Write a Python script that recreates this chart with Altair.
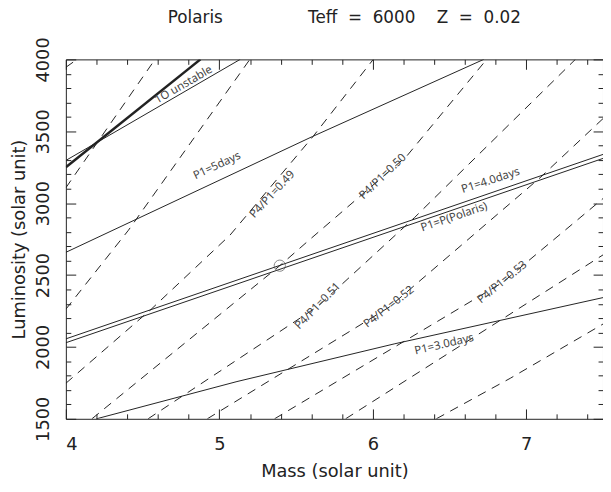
import altair as alt
import pandas as pd

# ---------------- data ----------------
# axis ticks
x_major = [4, 5, 6, 7]
x_minor = [4.2, 4.4, 4.6, 4.8, 5.2, 5.4, 5.6, 5.8, 6.2, 6.4, 6.6, 6.8, 7.2, 7.4]
y_major = [1500, 2000, 2500, 3000, 3500, 4000]
y_minor = [1600, 1700, 1800, 1900, 2100, 2200, 2300, 2400, 2600, 2700, 2800, 2900,
           3100, 3200, 3300, 3400, 3600, 3700, 3800, 3900]

# thick boundary line
thick_mass = [4.0, 4.877]
thick_lum = [3250, 4000]

# solid lines (constant period / stability)
unstable_mass = [4.0, 5.136]
unstable_lum = [3297, 4000]
p5_mass = [4.0, 5.608, 6.723]
p5_lum = [2658, 3464, 4000]
p4_mass = [4.0, 7.5]
p4_lum = [2056, 3339]
ppol_mass = [4.0, 7.5]
ppol_lum = [2029, 3311]
p3_mass = [4.2, 5.115, 6.144, 7.5]
p3_lum = [1500, 1759, 2022, 2343]

# dashed lines of constant P4/P1
d46_mass = [4.0, 4.073]
d46_lum = [3945, 4000]
d47_mass = [4.0, 4.581]
d47_lum = [3107, 4000]
d48_mass = [4.0, 4.408, 5.199]
d48_lum = [2262, 2812, 4000]
d49_mass = [4.0, 4.556, 5.070, 5.611, 6.003]
d49_lum = [1747, 2262, 2778, 3464, 4000]
d50_mass = [4.170, 5.394, 5.585, 6.221, 6.742]
d50_lum = [1500, 2565, 2743, 3327, 4000]
d51_mass = [4.536, 5.643, 6.273, 7.320]
d51_lum = [1500, 2283, 2901, 4000]
d52_mass = [4.922, 6.106, 7.089, 7.5]
d52_lum = [1500, 2276, 3176, 3588]
d53_mass = [5.360, 6.845, 7.5]
d53_lum = [1500, 2448, 3032]
d54_mass = [5.823, 7.5]
d54_lum = [1500, 2640]
d55_mass = [6.414, 6.896, 7.5]
d55_lum = [1500, 1782, 2159]

# Polaris position
polaris_mass = [5.394]
polaris_lum = [2565]

# in-plot labels
label_text = ["1O unstable", "P1=5days", "P4/P1=0.49", "P4/P1=0.50", "P4/P1=0.51",
              "P4/P1=0.52", "P4/P1=0.53", "P1=4.0days", "P1=P(Polaris)", "P1=3.0days"]
label_mass = [4.768, 4.986, 5.347, 6.067, 5.643, 6.106, 6.845, 6.768, 6.530, 6.466]
label_lum = [3821, 3258, 3059, 3183, 2283, 2276, 2448, 3155, 2901, 2015]
label_angle = [-30, -25, -47, -44, -46, -38, -39, -18, -19, -13]

# ---------------- tables ----------------
def table(specs):
    rows = []
    for name, ms, ls in specs:
        for m, l in zip(ms, ls):
            rows.append({"line": name, "mass": m, "lum": l})
    return pd.DataFrame(rows)

thick_df = table([("thick", thick_mass, thick_lum)])
solid_df = table([
    ("1O unstable", unstable_mass, unstable_lum),
    ("P1=5days", p5_mass, p5_lum),
    ("P1=4.0days", p4_mass, p4_lum),
    ("P1=P(Polaris)", ppol_mass, ppol_lum),
    ("P1=3.0days", p3_mass, p3_lum),
])
dashed_df = table([
    ("0.46", d46_mass, d46_lum), ("0.47", d47_mass, d47_lum),
    ("0.48", d48_mass, d48_lum), ("0.49", d49_mass, d49_lum),
    ("0.50", d50_mass, d50_lum), ("0.51", d51_mass, d51_lum),
    ("0.52", d52_mass, d52_lum), ("0.53", d53_mass, d53_lum),
    ("0.54", d54_mass, d54_lum), ("0.55", d55_mass, d55_lum),
])
pol_df = pd.DataFrame({"mass": polaris_mass, "lum": polaris_lum})
lab_df = pd.DataFrame({"text": label_text, "mass": label_mass, "lum": label_lum,
                       "angle": [(a + 360) % 360 for a in label_angle]})
carrier = pd.DataFrame({"mass": [4.0], "lum": [1500]})

# ---------------- chart ----------------
W, H = 544, 364
INK = "#222222"
xsc = alt.Scale(domain=[4, 7.5], nice=False, zero=False)
ysc = alt.Scale(domain=[1500, 4000], nice=False, zero=False)


def X(axis):
    return alt.X("mass:Q", scale=xsc, axis=axis)


def Y(axis):
    return alt.Y("lum:Q", scale=ysc, axis=axis)


dashed = alt.Chart(dashed_df).mark_line(
    color=INK, strokeWidth=1, strokeDash=[9, 7], clip=True
).encode(x=X(None), y=Y(None), detail="line:N")

solid = alt.Chart(solid_df).mark_line(
    color=INK, strokeWidth=1, clip=True
).encode(x=X(None), y=Y(None), detail="line:N")

thick = alt.Chart(thick_df).mark_line(
    color=INK, strokeWidth=2.5, clip=True
).encode(x=X(None), y=Y(None), detail="line:N")

circle = alt.Chart(pol_df).mark_point(
    shape="circle", size=130, filled=False, color="#555555", strokeWidth=1
).encode(x=X(None), y=Y(None))

labels = alt.Chart(lab_df).mark_text(
    font="Noto Sans", fontSize=11.5, color="#444444", align="center", baseline="middle"
).encode(x=X(None), y=Y(None), text="text:N",
         angle=alt.Angle("angle:Q", scale=None))

common = dict(grid=False, domain=False, tickColor=INK, tickWidth=1)

# axis carriers
lab_axes = alt.Chart(carrier).mark_point(opacity=0).encode(
    x=X(alt.Axis(orient="bottom", values=x_major, ticks=False, tickSize=0,
                 format="d", labelPadding=17, title="Mass (solar unit)",
                 titlePadding=9, **common)),
    y=Y(alt.Axis(orient="left", values=y_major, ticks=False, tickSize=0,
                 format="d", labelAngle=270, labelAlign="center",
                 labelBaseline="alphabetic", labelPadding=18,
                 title="Luminosity (solar unit)", titlePadding=6, **common)),
)


def tick_layer(xo, yo, xv, yv, size):
    return alt.Chart(carrier).mark_point(opacity=0).encode(
        x=X(alt.Axis(orient=xo, offset=-H, values=xv, labels=False, tickSize=size,
                     title=None, **common)),
        y=Y(alt.Axis(orient=yo, offset=-W, values=yv, labels=False, tickSize=size,
                     title=None, **common)),
    )


t1 = tick_layer("top", "right", x_major, y_major, 10)
t2 = tick_layer("top", "right", x_minor, y_minor, 5)
t3 = tick_layer("bottom", "left", x_major, y_major, 10)
t4 = tick_layer("bottom", "left", x_minor, y_minor, 5)

NB = "\u00a0"
title_text = ("Polaris" + NB * 16 + "Teff" + NB * 2 + "=" + NB * 2 + "6000"
              + NB * 4 + "Z" + NB * 2 + "=" + NB * 2 + "0.02")

chart = alt.layer(
    lab_axes, t1, t2, t3, t4, dashed, solid, thick, circle, labels
).resolve_axis(x="independent", y="independent").properties(
    width=W, height=H,
    autosize=alt.AutoSizeParams(type="none"),
    padding={"left": 58.6, "top": 49, "right": 0, "bottom": 63},
    title=alt.TitleParams(title_text, font="DejaVu Sans", fontSize=17,
                          fontWeight="normal", color=INK, anchor="middle",
                          offset=10, dx=10),
).configure_axis(
    labelFont="DejaVu Sans", labelFontSize=18, labelColor=INK,
    titleFont="DejaVu Sans", titleFontSize=18, titleFontWeight="normal",
    titleColor=INK,
).configure_view(stroke=INK, strokeWidth=1)

chart.save("out.html", embed_options={"renderer": "svg", "actions": False})
